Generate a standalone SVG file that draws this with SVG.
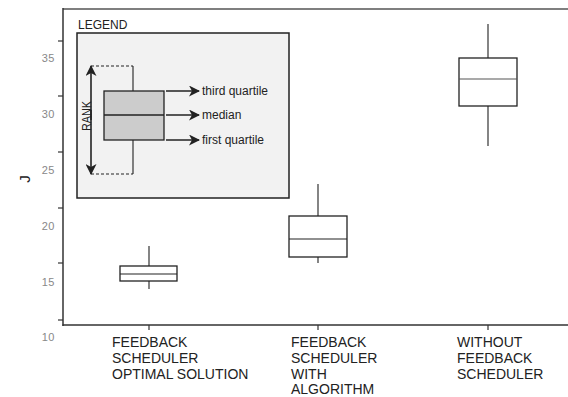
<svg xmlns="http://www.w3.org/2000/svg" width="568" height="397" viewBox="0 0 568 397">
<style>
text{font-family:"Liberation Sans",Arial,sans-serif;fill:#222}
.tick{font-size:11px;fill:#888;text-anchor:end;letter-spacing:0.5px}
.cat{font-size:14px}
.leg{font-size:12px}
.axis{stroke:#333;stroke-width:1.5;fill:none}
.box{fill:#fff;stroke:#222;stroke-width:1.3}
.wh{stroke:#333;stroke-width:1.2}
.arr{stroke:#222;stroke-width:1.6;fill:none}
</style>
<defs>
<marker id="ah" markerWidth="11" markerHeight="11" refX="10" refY="5.5" orient="auto" markerUnits="userSpaceOnUse">
<path d="M0,0 L11,5.5 L0,11 L3,5.5 Z" fill="#222"/>
</marker>
</defs>
<rect width="568" height="397" fill="#fff"/>
<g id="axes">
<line x1="63" y1="9" x2="568" y2="9" stroke="#555" stroke-width="1.5"/>
<line class="axis" x1="63" y1="8" x2="63" y2="326"/>
<line class="axis" x1="62.5" y1="325" x2="568" y2="325"/>
<g stroke="#333" stroke-width="1.2">
<line x1="58" y1="41" x2="63" y2="41"/>
<line x1="58" y1="96" x2="63" y2="96"/>
<line x1="58" y1="152" x2="63" y2="152"/>
<line x1="58" y1="208" x2="63" y2="208"/>
<line x1="58" y1="263" x2="63" y2="263"/>
<line x1="58" y1="320" x2="63" y2="320"/>
<line x1="149" y1="325" x2="149" y2="330"/>
<line x1="318" y1="325" x2="318" y2="330"/>
<line x1="488" y1="325" x2="488" y2="330"/>
</g>
<text class="tick" x="55" y="62">35</text>
<text class="tick" x="55" y="118">30</text>
<text class="tick" x="55" y="174">25</text>
<text class="tick" x="55" y="230">20</text>
<text class="tick" x="55" y="286">15</text>
<text class="tick" x="55" y="341">10</text>
<text x="30" y="179" font-size="15" text-anchor="middle" transform="rotate(-90 30 179)">J</text>
</g>
<g id="legend">
<text class="leg" x="78" y="29">LEGEND</text>
<rect x="77" y="33" width="212" height="165" fill="#f2f2f2" stroke="#222" stroke-width="1.5"/>
<line x1="133" y1="66" x2="133" y2="174" class="wh" stroke="#222"/>
<rect x="104" y="91" width="60" height="49" fill="#ccc" stroke="#222" stroke-width="1.3"/>
<line x1="104" y1="115" x2="164" y2="115" stroke="#222" stroke-width="1.3"/>
<path d="M91,66 H133 M91,174 H133" stroke="#222" stroke-width="1.2" stroke-dasharray="3,2" fill="none"/>
<line class="arr" x1="91" y1="120" x2="91" y2="66" marker-end="url(#ah)"/>
<line class="arr" x1="91" y1="110" x2="91" y2="174" marker-end="url(#ah)"/>
<text x="91" y="116" font-size="13" text-anchor="middle" textLength="30" lengthAdjust="spacingAndGlyphs" transform="rotate(-90 91 116)">RANK</text>
<line class="arr" x1="166" y1="91" x2="199" y2="91" marker-end="url(#ah)"/>
<line class="arr" x1="166" y1="115" x2="199" y2="115" marker-end="url(#ah)"/>
<line class="arr" x1="166" y1="140" x2="199" y2="140" marker-end="url(#ah)"/>
<text class="leg" x="202" y="95">third quartile</text>
<text class="leg" x="202" y="119">median</text>
<text class="leg" x="202" y="144">first quartile</text>
</g>
<g id="box1">
<line class="wh" x1="149" y1="246" x2="149" y2="289"/>
<rect class="box" x="120" y="266" width="57" height="15"/>
<line x1="120" y1="274" x2="177" y2="274" stroke="#222" stroke-width="1.2"/>
</g>
<g id="box2">
<line class="wh" x1="318" y1="184" x2="318" y2="263"/>
<rect class="box" x="289" y="216" width="58" height="41"/>
<line x1="289" y1="239" x2="347" y2="239" stroke="#222" stroke-width="1.2"/>
</g>
<g id="box3">
<line class="wh" x1="488" y1="24" x2="488" y2="146" stroke="#666"/>
<rect class="box" x="459" y="58" width="58" height="48" stroke-width="1.6"/>
<line x1="459" y1="79" x2="517" y2="79" stroke="#555" stroke-width="1.2"/>
</g>
<g id="labels">
<text class="cat" x="112" y="347">FEEDBACK</text>
<text class="cat" x="112" y="363">SCHEDULER</text>
<text class="cat" x="112" y="379">OPTIMAL SOLUTION</text>
<text class="cat" x="291" y="347">FEEDBACK</text>
<text class="cat" x="291" y="363">SCHEDULER</text>
<text class="cat" x="291" y="379">WITH</text>
<text class="cat" x="291" y="394">ALGORITHM</text>
<text class="cat" x="457" y="347">WITHOUT</text>
<text class="cat" x="457" y="363">FEEDBACK</text>
<text class="cat" x="457" y="379">SCHEDULER</text>
</g>
</svg>
